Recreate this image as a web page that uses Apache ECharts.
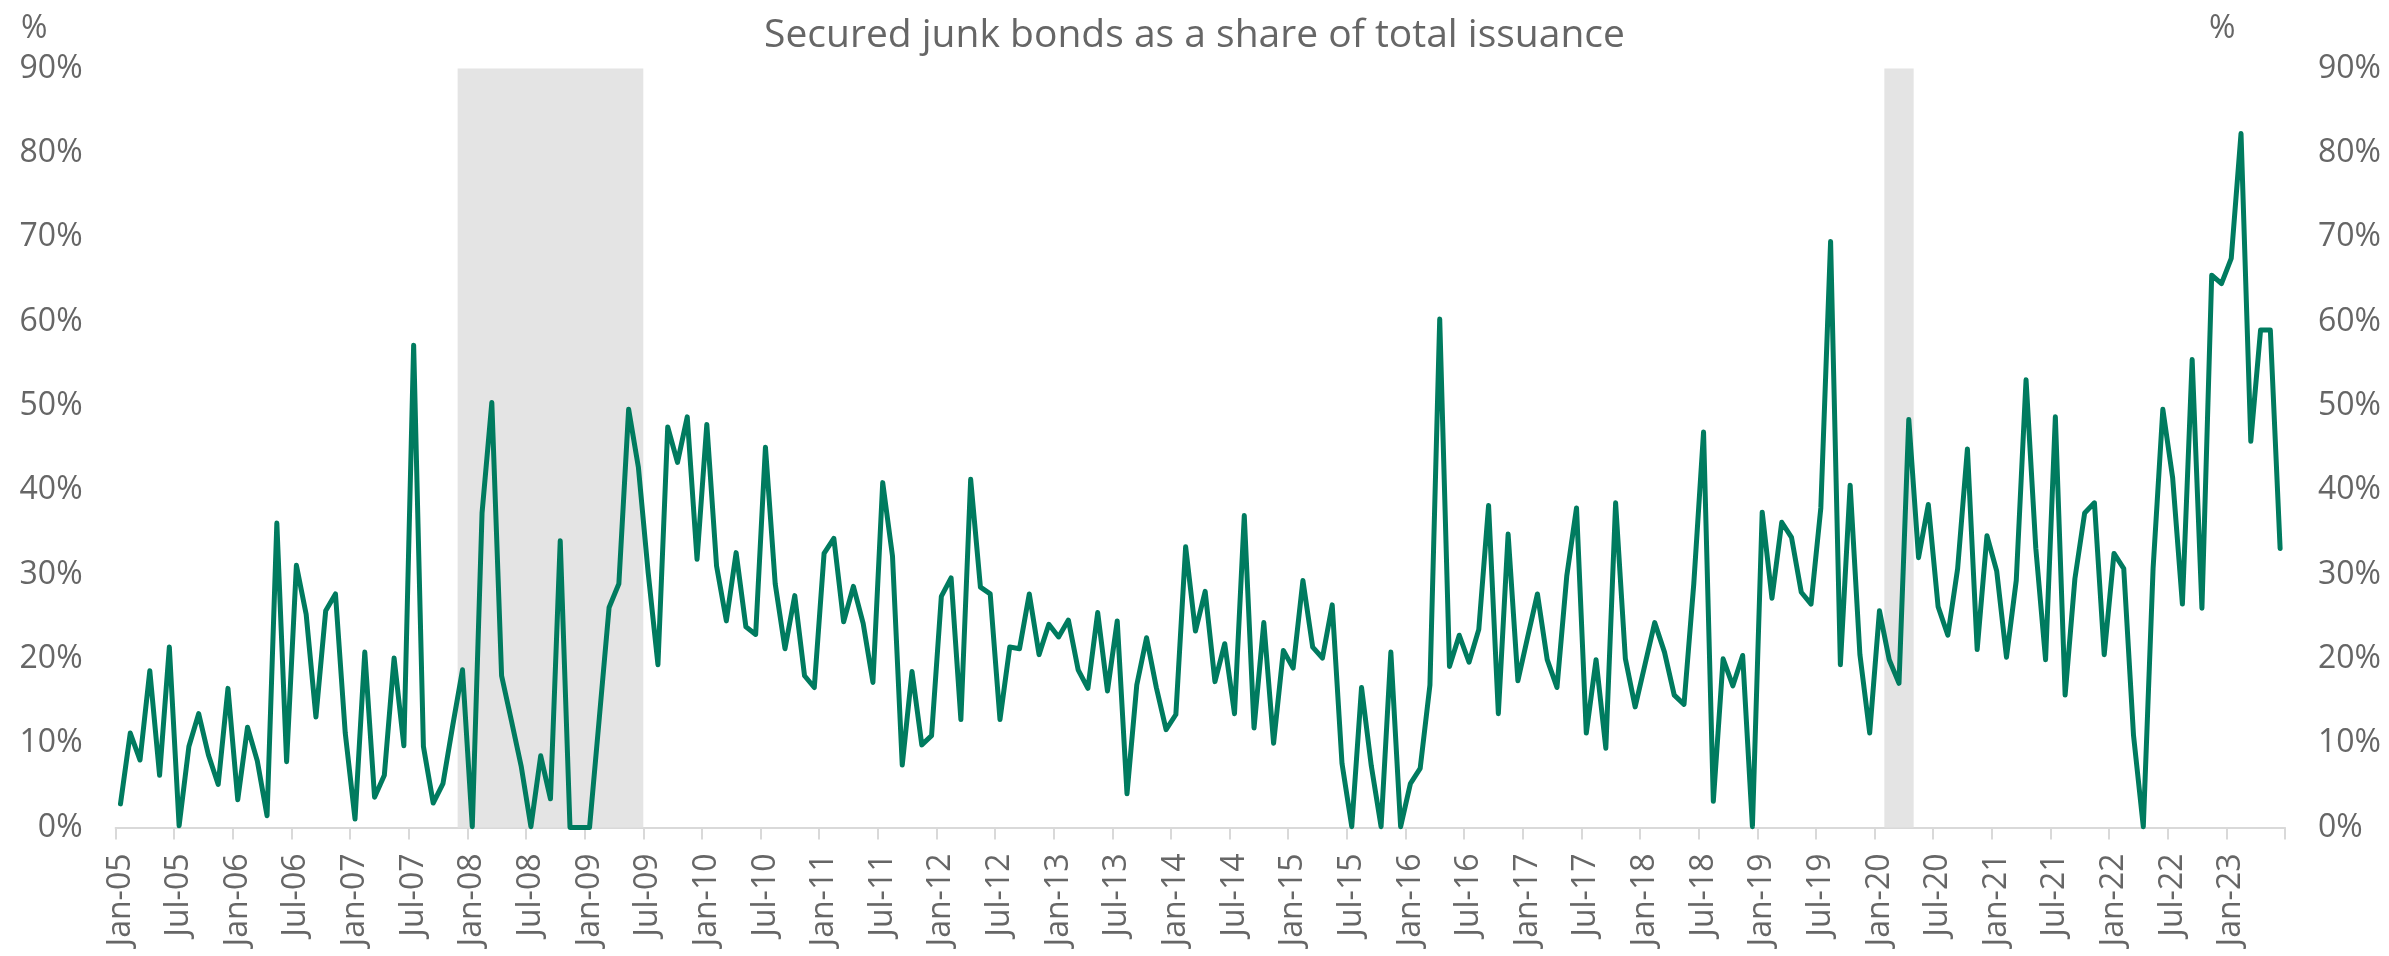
<!DOCTYPE html>
<html>
<head>
<meta charset="utf-8">
<script src="https://cdn.jsdelivr.net/npm/echarts@6/dist/echarts.min.js"></script>
<style>
  html, body { margin: 0; padding: 0; background: #ffffff; }
  #chart { width: 2389px; height: 956px; }
</style>
</head>
<body>
<div id="chart"></div>
<script>
// ---- Data (monthly, Jan-05 .. Jun-23), % of total issuance ----
const monthNames = ['Jan','Feb','Mar','Apr','May','Jun','Jul','Aug','Sep','Oct','Nov','Dec'];
const startYear = 2005;
const monthCount = 222;

const values2005_2009 = [
  2.8, 11.2, 8.0, 18.6, 6.2, 21.4, 0.2, 9.6, 13.5, 8.6, 5.1, 16.5,
  3.3, 11.9, 7.9, 1.4, 36.1, 7.8, 31.1, 25.3, 13.1, 25.7, 27.7, 11.2,
  1.0, 20.8, 3.6, 6.2, 20.1, 9.7, 57.2, 9.6, 2.9, 5.2, 12.1, 18.7,
  0.1, 37.3, 50.4, 18.0, 12.7, 7.3, 0.1, 8.5, 3.4, 34.0, 0, 0,
  0, 13.0, 26.1, 28.9, 49.6, 42.7, 30.2, 19.3, 47.5, 43.3, 48.7, 31.8
];
const values2010_2014 = [
  47.8, 31.0, 24.5, 32.6, 23.8, 22.9, 45.1, 28.9, 21.2, 27.5, 18.0, 16.6,
  32.5, 34.3, 24.4, 28.6, 24.2, 17.2, 40.9, 32.2, 7.4, 18.5, 9.8, 10.9,
  27.4, 29.6, 12.8, 41.3, 28.5, 27.7, 12.8, 21.4, 21.2, 27.7, 20.5, 24.1,
  22.6, 24.6, 18.7, 16.5, 25.5, 16.2, 24.5, 4.0, 16.9, 22.5, 16.6, 11.6,
  13.4, 33.3, 23.3, 28.0, 17.3, 21.8, 13.5, 37.0, 11.8, 24.3, 10.0, 21.0
];
const values2015_2019 = [
  18.9, 29.3, 21.4, 20.1, 26.4, 7.6, 0.1, 16.6, 7.3, 0.1, 20.8, 0.1,
  5.2, 7.0, 16.9, 60.3, 19.1, 22.8, 19.6, 23.5, 38.2, 13.5, 34.8, 17.4,
  22.6, 27.7, 19.9, 16.6, 29.8, 37.9, 11.2, 19.9, 9.4, 38.5, 20.0, 14.3,
  19.3, 24.3, 20.8, 15.7, 14.6, 28.9, 46.9, 3.1, 20.0, 16.8, 20.4, 0.1,
  37.4, 27.2, 36.2, 34.4, 27.9, 26.5, 37.9, 69.5, 19.3, 40.6, 20.5, 11.2
];
const values2020_2023 = [
  25.7, 19.9, 17.1, 48.4, 32.0, 38.3, 26.2, 22.8, 30.7, 44.9, 21.1, 34.6,
  30.4, 20.2, 29.3, 53.1, 33.1, 19.9, 48.7, 15.7, 29.5, 37.3, 38.5, 20.5,
  32.5, 30.7, 10.9, 0.1, 30.7, 49.6, 41.5, 26.5, 55.5, 26.0, 65.5, 64.5,
  67.5, 82.3, 45.8, 59.0, 59.0, 33.1
];

const recessions = [['Dec-07', 'Jun-09'], ['Feb-20', 'Apr-20']];
const yTicks = [0, 10, 20, 30, 40, 50, 60, 70, 80, 90];
const titleText = 'Secured junk bonds as a share of total issuance';

// ---- Build categories ----
const categories = [];
for (let k = 0; k < monthCount; k++) {
  const y = startYear + Math.floor(k / 12);
  categories.push(monthNames[k % 12] + '-' + String(y % 100).padStart(2, '0'));
}
const values = values2005_2009.concat(values2010_2014, values2015_2019, values2020_2023);

const recessionAreas = recessions.map(r => [
  { xAxis: categories.indexOf(r[0]) },
  { xAxis: categories.indexOf(r[1]) + 1 }
]);

const FONT = '"Open Sans", "Noto Sans", sans-serif';
const TXT = '#666666';

const chart = echarts.init(document.getElementById('chart'), null, { renderer: 'canvas' });
const yAxisBase = {
  type: 'value',
  min: yTicks[0],
  max: yTicks[yTicks.length - 1],
  interval: yTicks[1] - yTicks[0],
  splitLine: { show: false },
  axisLine: { show: false },
  axisTick: { show: false },
  axisLabel: { formatter: '{value}%', fontSize: 32, color: TXT, fontFamily: FONT, margin: 33 }
};

chart.setOption({
  animation: false,
  backgroundColor: '#ffffff',
  title: [
    { text: titleText, left: 'center', top: 11,
      textStyle: { fontSize: 39, fontWeight: 'normal', color: TXT, fontFamily: FONT } },
    { text: '%', left: 16, top: 8,
      textStyle: { fontSize: 32, fontWeight: 'normal', color: TXT, fontFamily: FONT } },
    { text: '%', left: 2204, top: 8,
      textStyle: { fontSize: 32, fontWeight: 'normal', color: TXT, fontFamily: FONT } }
  ],
  grid: { left: 115.6, right: 104, top: 68.6, bottom: 128.5, containLabel: false },
  xAxis: [
    {
      type: 'category',
      data: categories,
      boundaryGap: true,
      axisLine: { show: true, lineStyle: { color: '#d9d9d9', width: 2 } },
      axisTick: { show: true, interval: 5, length: 12, lineStyle: { color: '#d9d9d9', width: 2 } },
      axisLabel: { interval: 5, rotate: 90, fontSize: 32, color: TXT, fontFamily: FONT, margin: 26 },
      splitLine: { show: false }
    },
    {
      type: 'value', min: 0, max: monthCount, show: false,
      splitLine: { show: false }
    }
  ],
  yAxis: [
    Object.assign({}, yAxisBase, { position: 'left' }),
    Object.assign({}, yAxisBase, { position: 'right' })
  ],
  series: [
    {
      name: 'Recessions',
      type: 'line',
      xAxisIndex: 1,
      yAxisIndex: 0,
      data: [],
      z: 1,
      silent: true,
      markArea: {
        silent: true,
        itemStyle: { color: '#e4e4e4' },
        data: recessionAreas
      }
    },
    {
      name: 'Secured share',
      type: 'line',
      xAxisIndex: 0,
      yAxisIndex: 0,
      data: values,
      z: 5,
      symbol: 'none',
      lineStyle: { color: '#007b5f', width: 5, join: 'round', cap: 'round' },
      itemStyle: { color: '#007b5f' }
    }
  ]
});
</script>
</body>
</html>
